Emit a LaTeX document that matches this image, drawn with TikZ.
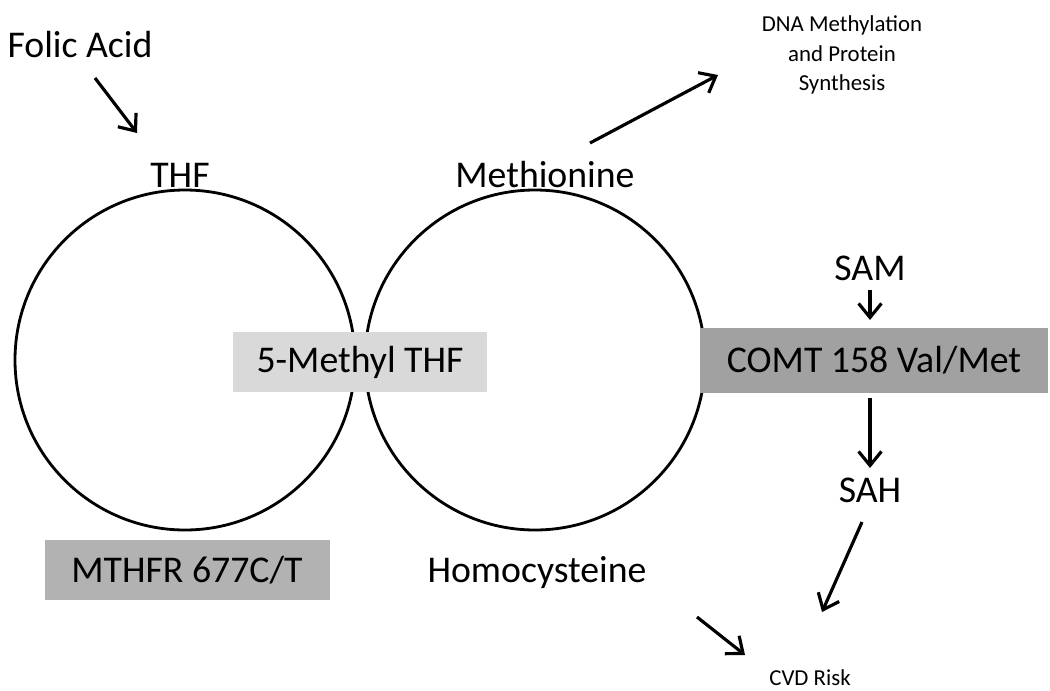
\documentclass[tikz,border=0pt]{standalone}
\usepackage{fontspec}
\setmainfont{Carlito}
\usetikzlibrary{arrows.meta}
\begin{document}
\begin{tikzpicture}[x=0.02cm,y=-0.02cm,
  lbl/.style={font=\fontsize{21.5}{24}\selectfont,inner sep=0pt},
  sml/.style={font=\fontsize{13}{17}\selectfont,align=center,inner sep=0pt},
  arr/.style={line width=1.8pt,-{Straight Barb[length=8pt,width=13pt,line width=1.8pt]}},
  circ/.style={draw,line width=1.6pt}]
\useasboundingbox (0,0) rectangle (1050,690);
\draw[circ] (185,360) circle[radius=170];
\draw[circ] (535,360) circle[radius=170];
\node[lbl] (folic) at (80,45) {Folic Acid};
\node[lbl] (thf) at (180,175) {THF};
\node[lbl] (met) at (545,175) {Methionine};
\node[sml] (dna) at (842,55) {DNA Methylation\\and Protein\\Synthesis};
\node[lbl] (sam) at (870,268) {SAM};
\node[lbl,fill=black!37,minimum width=348*0.02cm,minimum height=65*0.02cm] (comt) at (874,360) {COMT 158 Val/Met};
\node[lbl,fill=black!15,minimum width=254*0.02cm,minimum height=60*0.02cm] (mthf) at (360,362) {5-Methyl THF};
\node[lbl] (sah) at (870,490) {SAH};
\node[lbl] (hcy) at (537,573) {Homocysteine};
\node[sml] (cvd) at (810,678) {CVD Risk};
\node[lbl,fill=black!30,minimum width=285*0.02cm,minimum height=60*0.02cm] (mthfr) at (187,570) {MTHFR 677C/T};
\coordinate (a1) at (95,78); \coordinate (a2) at (137,133);
\draw[arr] (a1) -- (a2);
\coordinate (b1) at (590,143); \coordinate (b2) at (718,75);
\draw[arr] (b1) -- (b2);
\coordinate (s1) at (870,290); \coordinate (s2) at (870,320);
\draw[arr] (s1) -- (s2);
\coordinate (h1) at (870,398); \coordinate (h2) at (870,468);
\draw[arr] (h1) -- (h2);
\coordinate (c1) at (862,522); \coordinate (c2) at (822,612);
\draw[arr] (c1) -- (c2);
\coordinate (d1) at (697,617); \coordinate (d2) at (745,655);
\draw[arr] (d1) -- (d2);
\end{tikzpicture}
\end{document}
